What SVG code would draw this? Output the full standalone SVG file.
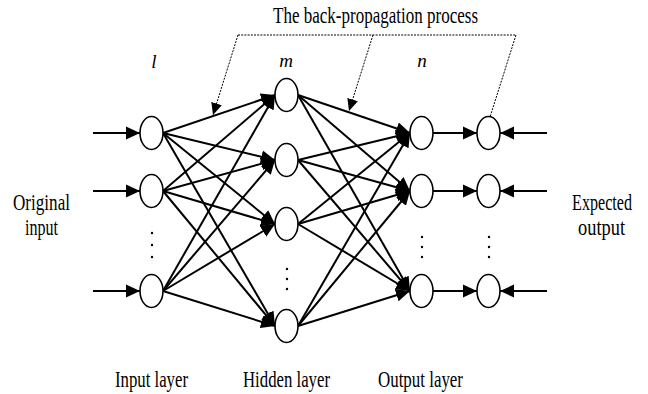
<svg xmlns="http://www.w3.org/2000/svg" width="648" height="394" viewBox="0 0 648 394">
<defs>
<marker id="ah" markerUnits="userSpaceOnUse" markerWidth="14" markerHeight="14" viewBox="0 0 12 12" refX="12" refY="6" orient="auto">
<path d="M0,0.5 L12,6 L0,11.5 Z" fill="#000"/>
</marker>
<marker id="dh" markerUnits="userSpaceOnUse" markerWidth="12" markerHeight="12" viewBox="0 0 12 12" refX="12" refY="6" orient="auto">
<path d="M0,0.5 L12,6 L0,11.5 Z" fill="#000"/>
</marker>
</defs>
<style>
.n{fill:#fff;stroke:#000;stroke-width:1.6}
.c{stroke:#000;stroke-width:2;fill:none;marker-end:url(#ah)}
.d{stroke:#000;stroke-width:1;fill:none;stroke-dasharray:2,1.2}
.t{font-family:"Liberation Serif","Times New Roman",serif;font-size:23px;fill:#000;text-anchor:middle}
.i{font-family:"Liberation Serif","Times New Roman",serif;font-size:19px;font-style:italic;fill:#000;text-anchor:middle}
.dot{fill:#000}
</style>
<rect width="648" height="394" fill="#fff"/>
<g id="connectors">
<line class="c" x1="93" y1="133" x2="140" y2="133"/>
<line class="c" x1="93" y1="191" x2="140" y2="191"/>
<line class="c" x1="93" y1="291" x2="140" y2="291"/>
<line class="c" x1="163" y1="133" x2="275" y2="95"/>
<line class="c" x1="163" y1="133" x2="275" y2="160"/>
<line class="c" x1="163" y1="133" x2="275" y2="224"/>
<line class="c" x1="163" y1="133" x2="275" y2="326"/>
<line class="c" x1="163" y1="191" x2="275" y2="95"/>
<line class="c" x1="163" y1="191" x2="275" y2="160"/>
<line class="c" x1="163" y1="191" x2="275" y2="224"/>
<line class="c" x1="163" y1="191" x2="275" y2="326"/>
<line class="c" x1="163" y1="291" x2="275" y2="95"/>
<line class="c" x1="163" y1="291" x2="275" y2="160"/>
<line class="c" x1="163" y1="291" x2="275" y2="224"/>
<line class="c" x1="163" y1="291" x2="275" y2="326"/>
<line class="c" x1="298" y1="95" x2="410" y2="133"/>
<line class="c" x1="298" y1="95" x2="410" y2="191"/>
<line class="c" x1="298" y1="95" x2="410" y2="291"/>
<line class="c" x1="298" y1="160" x2="410" y2="133"/>
<line class="c" x1="298" y1="160" x2="410" y2="191"/>
<line class="c" x1="298" y1="160" x2="410" y2="291"/>
<line class="c" x1="298" y1="224" x2="410" y2="133"/>
<line class="c" x1="298" y1="224" x2="410" y2="191"/>
<line class="c" x1="298" y1="224" x2="410" y2="291"/>
<line class="c" x1="298" y1="326" x2="410" y2="133"/>
<line class="c" x1="298" y1="326" x2="410" y2="191"/>
<line class="c" x1="298" y1="326" x2="410" y2="291"/>
<line class="c" x1="433" y1="133" x2="477" y2="133"/>
<line class="c" x1="433" y1="191" x2="477" y2="191"/>
<line class="c" x1="433" y1="291" x2="477" y2="291"/>
<line class="c" x1="547" y1="133" x2="500" y2="133"/>
<line class="c" x1="547" y1="191" x2="500" y2="191"/>
<line class="c" x1="547" y1="291" x2="500" y2="291"/>
<line class="d" x1="238" y1="35" x2="516" y2="35"/>
<line class="d" x1="238" y1="35" x2="213" y2="115" marker-end="url(#dh)"/>
<line class="d" x1="373" y1="35" x2="349" y2="111" marker-end="url(#dh)"/>
<line class="d" x1="516" y1="35" x2="490" y2="117"/>
</g>
<g id="input-layer">
<ellipse class="n" cx="151.5" cy="133" rx="11.5" ry="16.5"/>
<ellipse class="n" cx="151.5" cy="191" rx="11.5" ry="16.5"/>
<ellipse class="n" cx="151.5" cy="291" rx="11.5" ry="16.5"/>
<circle class="dot" cx="152" cy="233" r="1.2"/>
<circle class="dot" cx="152" cy="245" r="1.2"/>
<circle class="dot" cx="152" cy="257" r="1.2"/>
</g>
<g id="hidden-layer">
<ellipse class="n" cx="286.5" cy="95" rx="11.5" ry="16.5"/>
<ellipse class="n" cx="286.5" cy="160" rx="11.5" ry="16.5"/>
<ellipse class="n" cx="286.5" cy="224" rx="11.5" ry="16.5"/>
<ellipse class="n" cx="286.5" cy="326" rx="11.5" ry="16.5"/>
<circle class="dot" cx="287" cy="269" r="1.2"/>
<circle class="dot" cx="287" cy="279" r="1.2"/>
<circle class="dot" cx="287" cy="289" r="1.2"/>
</g>
<g id="output-layer">
<ellipse class="n" cx="421.5" cy="133" rx="11.5" ry="16.5"/>
<ellipse class="n" cx="421.5" cy="191" rx="11.5" ry="16.5"/>
<ellipse class="n" cx="421.5" cy="291" rx="11.5" ry="16.5"/>
<circle class="dot" cx="422" cy="237" r="1.2"/>
<circle class="dot" cx="422" cy="247" r="1.2"/>
<circle class="dot" cx="422" cy="257" r="1.2"/>
</g>
<g id="expected-layer">
<ellipse class="n" cx="488.5" cy="133" rx="11.5" ry="16.5"/>
<ellipse class="n" cx="488.5" cy="191" rx="11.5" ry="16.5"/>
<ellipse class="n" cx="488.5" cy="291" rx="11.5" ry="16.5"/>
<circle class="dot" cx="489" cy="237" r="1.2"/>
<circle class="dot" cx="489" cy="247" r="1.2"/>
<circle class="dot" cx="489" cy="257" r="1.2"/>
</g>
<g id="labels">
<text class="t" x="375.5" y="23" textLength="205" lengthAdjust="spacingAndGlyphs">The back-propagation process</text>
<text class="i" x="154" y="68">l</text>
<text class="i" x="286" y="67">m</text>
<text class="i" x="422" y="67">n</text>
<text class="t" x="41.5" y="210" textLength="57" lengthAdjust="spacingAndGlyphs">Original</text>
<text class="t" x="41.5" y="235" textLength="33" lengthAdjust="spacingAndGlyphs">input</text>
<text class="t" transform="translate(602 210) scale(0.7 1)" x="0" y="0">Expected</text>
<text class="t" transform="translate(601.5 235) scale(0.8 1)" x="0" y="0">output</text>
<text class="t" x="151.5" y="387" textLength="73" lengthAdjust="spacingAndGlyphs">Input layer</text>
<text class="t" x="286.5" y="387" textLength="87" lengthAdjust="spacingAndGlyphs">Hidden layer</text>
<text class="t" x="420.5" y="387" textLength="85" lengthAdjust="spacingAndGlyphs">Output layer</text>
</g>
</svg>
